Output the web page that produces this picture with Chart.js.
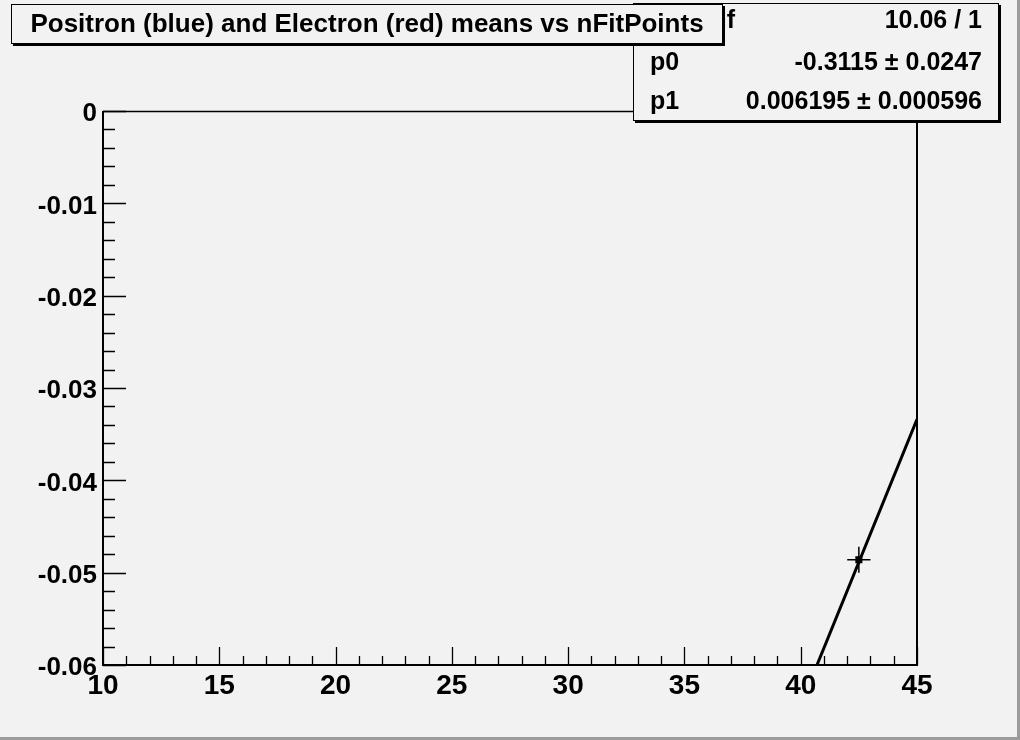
<!DOCTYPE html>
<html><head><meta charset="utf-8">
<script src="https://cdn.jsdelivr.net/npm/chart.js@4.4.1/dist/chart.umd.min.js"></script>
<style>html,body{margin:0;padding:0;background:#f2f2f2;overflow:hidden}#wrap{width:1020px;height:740px;position:relative}</style>
</head><body><div id="wrap"><canvas id="c" width="1020" height="740"></canvas></div>
<script>
// ---- data ----
const titleText = 'Positron (blue) and Electron (red) means vs nFitPoints';
const xRange = [10, 45];
const yRange = [-0.06, 0];
const xMajorStep = 5, xMinorStep = 1;
const yMajorStep = 0.01, yMinorStep = 0.002;
const pointX = [42.5];
const pointY = [-0.0486];
const pointXErr = [0.5];
const pointYErr = [0.0014];
const fitX = [40.7, 45];
const fitY = [-0.06, -0.0334];
const statLabels = ['\u03C7\u00B2 / ndf', 'p0', 'p1'];
const statValues = ['10.06 / 1', '-0.3115 \u00B1 0.0247', '0.006195 \u00B1 0.000596'];

const FONT = '"Liberation Sans", Arial, Helvetica, sans-serif';
const BG = '#f2f2f2';

function shadowBox(ctx, x0, y0, x1, y1) {
  ctx.fillStyle = BG;
  ctx.fillRect(x0, y0, x1 - x0, y1 - y0);
  ctx.fillStyle = '#000';
  ctx.fillRect(x1, y0 + 2, 2, y1 - y0);
  ctx.fillRect(x0 + 2, y1, x1 - x0, 2);
  ctx.strokeStyle = '#000';
  ctx.lineWidth = 1;
  ctx.strokeRect(x0 + 0.5, y0 + 0.5, x1 - x0 - 1, y1 - y0 - 1);
}

const rootPlugin = {
  id: 'rootDecor',
  beforeDraw(chart) {
    const ctx = chart.ctx;
    ctx.save();
    ctx.fillStyle = BG;
    ctx.fillRect(0, 0, 1020, 740);
    ctx.fillStyle = '#9c9c9c';
    ctx.fillRect(1017, 0, 3, 740);
    ctx.fillRect(0, 737, 1020, 3);
    ctx.restore();
  },
  afterDatasetsDraw(chart) {
    const ctx = chart.ctx, xs = chart.scales.x, ys = chart.scales.y, a = chart.chartArea;
    ctx.save();
    ctx.strokeStyle = '#000';
    ctx.lineWidth = 1.5;
    for (let i = 0; i < pointX.length; i++) {
      const px = xs.getPixelForValue(pointX[i]), py = ys.getPixelForValue(pointY[i]);
      ctx.beginPath();
      ctx.moveTo(xs.getPixelForValue(pointX[i] - pointXErr[i]), py);
      ctx.lineTo(xs.getPixelForValue(pointX[i] + pointXErr[i]), py);
      ctx.moveTo(px, ys.getPixelForValue(pointY[i] - pointYErr[i]));
      ctx.lineTo(px, ys.getPixelForValue(pointY[i] + pointYErr[i]));
      ctx.stroke();
    }
    // frame
    ctx.lineWidth = 1.5;
    ctx.beginPath();
    ctx.moveTo(a.left, a.top + 0.5); ctx.lineTo(a.right, a.top + 0.5);
    ctx.stroke();
    ctx.lineWidth = 2;
    ctx.beginPath();
    ctx.moveTo(a.right, a.top); ctx.lineTo(a.right, a.bottom);
    ctx.moveTo(a.left, a.top); ctx.lineTo(a.left, a.bottom + 1);
    ctx.moveTo(a.left - 1, a.bottom); ctx.lineTo(a.right + 1, a.bottom);
    ctx.stroke();
    // ticks
    ctx.lineWidth = 1.3;
    ctx.beginPath();
    const nx = Math.round((xRange[1] - xRange[0]) / xMinorStep);
    for (let k = 0; k <= nx; k++) {
      const v = xRange[0] + k * xMinorStep;
      const major = Math.abs((v - xRange[0]) / xMajorStep - Math.round((v - xRange[0]) / xMajorStep)) < 1e-6;
      const p = Math.round(xs.getPixelForValue(v)) + 0.5;
      ctx.moveTo(p, a.bottom);
      ctx.lineTo(p, a.bottom - (major ? 18 : 9));
    }
    const ny = Math.round((yRange[1] - yRange[0]) / yMinorStep);
    for (let k = 0; k <= ny; k++) {
      const major = k % Math.round(yMajorStep / yMinorStep) === 0;
      const v = yRange[0] + k * yMinorStep;
      const p = Math.round(ys.getPixelForValue(v)) + 0.5;
      ctx.moveTo(a.left, p);
      ctx.lineTo(a.left + (major ? 23 : 12), p);
    }
    ctx.stroke();
    ctx.restore();
  },
  afterDraw(chart) {
    const ctx = chart.ctx;
    ctx.save();
    shadowBox(ctx, 633, 3, 999, 121);
    ctx.fillStyle = '#000';
    ctx.font = 'bold 25px ' + FONT;
    ctx.textBaseline = 'middle';
    const rowY = [21, 63, 102];
    for (let i = 0; i < statLabels.length; i++) {
      ctx.textAlign = i === 0 ? 'right' : 'left';
      ctx.fillText(statLabels[i], i === 0 ? 735 : 650, rowY[i]);
      ctx.textAlign = 'right';
      ctx.fillText(statValues[i], 982, rowY[i]);
    }
    shadowBox(ctx, 11, 4, 723, 44);
    ctx.fillStyle = '#000';
    ctx.font = 'bold 26px ' + FONT;
    ctx.textAlign = 'center';
    ctx.textBaseline = 'middle';
    ctx.fillText(titleText, 367, 25);
    ctx.restore();
  }
};

function yLabel(v) {
  const r = Math.round(v * 100) / 100;
  return r === 0 ? '0' : r.toFixed(2);
}

new Chart(document.getElementById('c'), {
  type: 'scatter',
  data: {
    datasets: [
      {
        label: 'fit',
        data: fitX.map((x, i) => ({ x: x, y: fitY[i] })),
        showLine: true,
        borderColor: '#000',
        borderWidth: 3,
        pointRadius: 0,
        fill: false
      },
      {
        label: 'means',
        data: pointX.map((x, i) => ({ x: x, y: pointY[i] })),
        pointStyle: 'rect',
        pointRadius: 5,
        backgroundColor: '#000',
        borderColor: '#000',
        borderWidth: 0
      }
    ]
  },
  options: {
    responsive: false,
    devicePixelRatio: 1,
    animation: false,
    layout: { padding: { left: 0, top: 111, right: 103, bottom: 0 } },
    plugins: { legend: { display: false }, tooltip: { enabled: false }, title: { display: false } },
    scales: {
      x: {
        type: 'linear',
        min: xRange[0], max: xRange[1],
        grid: { display: false, drawTicks: false },
        border: { display: false },
        afterFit(s) { s.height = 75; },
        ticks: {
          stepSize: xMajorStep, autoSkip: false, maxRotation: 0,
          padding: 4, color: '#000',
          font: { family: FONT, weight: 'bold', size: 28 }
        }
      },
      y: {
        type: 'linear',
        min: yRange[0], max: yRange[1],
        grid: { display: false, drawTicks: false },
        border: { display: false },
        afterFit(s) { s.width = 103; },
        ticks: {
          stepSize: yMajorStep, autoSkip: false,
          padding: 6, labelOffset: 3, color: '#000',
          font: { family: FONT, weight: 'bold', size: 26 },
          callback: yLabel
        }
      }
    }
  },
  plugins: [rootPlugin]
});
</script></body></html>
